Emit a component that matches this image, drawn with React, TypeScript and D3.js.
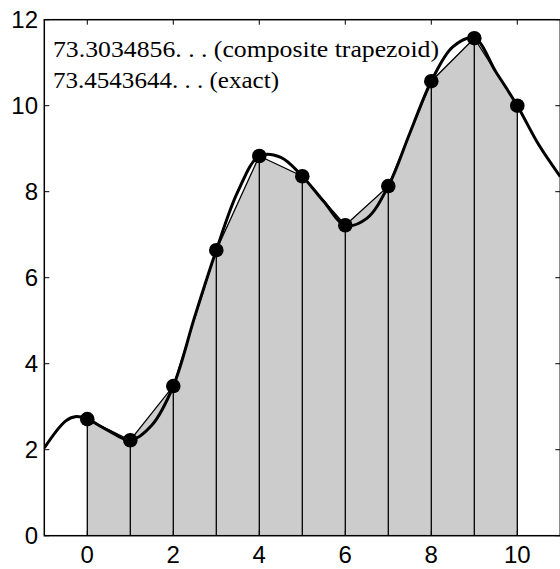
import React from "react";
import * as d3 from "d3";

const nodeX = [0, 1, 2, 3, 4, 5, 6, 7, 8, 9, 10];
const nodeY = [2.71, 2.22, 3.48, 6.64, 8.83, 8.36, 7.22, 8.13, 10.57, 11.57, 10.0];

const curveX = [-1, -0.5, -0.25, 0, 0.5, 1, 1.5, 2, 2.5, 3, 3.5, 4, 4.5, 5, 5.5, 6, 6.5, 7, 7.5, 8, 8.5, 9, 9.5, 10, 10.5, 11];
const curveY = [2.04, 2.67, 2.77, 2.71, 2.44, 2.22, 2.57, 3.48, 5.1, 6.64, 8.0, 8.83, 8.8, 8.36, 7.77, 7.22, 7.38, 8.13, 9.36, 10.57, 11.37, 11.57, 10.79, 10.0, 9.09, 8.35];

const xTicks = [0, 2, 4, 6, 8, 10];
const yTicks = [0, 2, 4, 6, 8, 10, 12];
const labels = ["73.3034856. . . (composite trapezoid)", "73.4543644. . . (exact)"];
const labelWidths = [386, 226];

export default function App() {
  const W = 560, H = 569;
  const x = d3.scaleLinear().domain([-1, 11]).range([44.3, 560.3]);
  const y = d3.scaleLinear().domain([0, 12]).range([535.7, 19.7]);
  const x0 = x(-1), x1 = x(11), y0 = y(0), y1 = y(12);

  const pts: [number, number][] = nodeX.map((v, i) => [v, nodeY[i]]);
  const area = d3.area<[number, number]>().x(d => x(d[0])).y0(y(0)).y1(d => y(d[1]));
  const chord = d3.line<[number, number]>().x(d => x(d[0])).y(d => y(d[1]));
  const cpts: [number, number][] = curveX.map((v, i) => [v, curveY[i]]);
  const curve = d3.line<[number, number]>().x(d => x(d[0])).y(d => y(d[1])).curve(d3.curveCatmullRom.alpha(0.5));

  const tickLen = 5;
  const sans = { fontFamily: "'Liberation Sans', Arial, sans-serif", fontSize: 24 };
  const serif = { fontFamily: "'Liberation Serif', 'Times New Roman', serif", fontSize: 24 };
  return (
    <svg width={W} height={H} style={{ position: "absolute", left: 0, top: 0, background: "#fff" }}>
      <defs>
        <clipPath id="plot">
          <rect x={x0} y={y1} width={x1 - x0} height={y0 - y1} />
        </clipPath>
      </defs>
      <path d={area(pts) || ""} fill="#cccccc" stroke="none" />
      {pts.map((p, i) => (
        <line key={i} x1={x(p[0])} x2={x(p[0])} y1={y(0)} y2={y(p[1])} stroke="#000" strokeWidth={1.3} />
      ))}
      <path d={chord(pts) || ""} fill="none" stroke="#000" strokeWidth={1.3} />
      <g clipPath="url(#plot)">
        <path d={curve(cpts) || ""} fill="none" stroke="#000" strokeWidth={3} strokeLinejoin="round" />
      </g>
      {pts.map((p, i) => (
        <circle key={i} cx={x(p[0])} cy={y(p[1])} r={7.3} fill="#000" />
      ))}
      <rect x={x0} y={y1} width={x1 - x0} height={y0 - y1} fill="none" stroke="#000" strokeWidth={1.5} />
      {xTicks.map(t => (
        <g key={"x" + t}>
          <line x1={x(t)} x2={x(t)} y1={y0} y2={y0 - tickLen} stroke="#000" strokeWidth={1} />
          <line x1={x(t)} x2={x(t)} y1={y1} y2={y1 + tickLen} stroke="#000" strokeWidth={1} />
          <text x={x(t)} y={563} textAnchor="middle" style={sans}>{t}</text>
        </g>
      ))}
      {yTicks.map(t => (
        <g key={"y" + t}>
          <line x1={x0} x2={x0 + tickLen} y1={y(t)} y2={y(t)} stroke="#000" strokeWidth={1} />
          <line x1={x1} x2={x1 - tickLen} y1={y(t)} y2={y(t)} stroke="#000" strokeWidth={1} />
          <text x={38} y={y(t)} dy="0.36em" textAnchor="end" style={sans}>{t}</text>
        </g>
      ))}
      {labels.map((s, i) => (
        <text key={i} x={53} y={57 + i * 31} style={serif} textLength={labelWidths[i]} lengthAdjust="spacingAndGlyphs">{s}</text>
      ))}
    </svg>
  );
}
